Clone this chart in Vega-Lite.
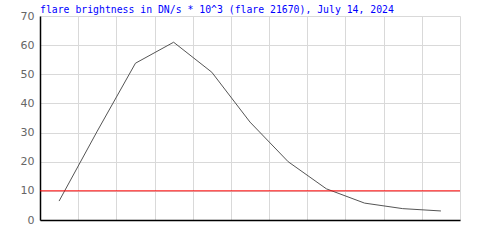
{
  "$schema": "https://vega.github.io/schema/vega-lite/v6.json",
  "width": 420,
  "height": 204,
  "autosize": "none",
  "padding": {"left": 40, "top": 16, "right": 40, "bottom": 30},
  "background": "white",
  "title": {
    "text": "flare brightness in DN/s * 10^3 (flare 21670), July 14, 2024",
    "anchor": "start",
    "frame": "group",
    "font": "DejaVu Sans Mono",
    "fontSize": 9.8,
    "fontWeight": "normal",
    "color": "#0000ff",
    "offset": -5
  },
  "config": {
    "view": {"stroke": null},
    "axis": {"gridColor": "#d9d9d9", "gridWidth": 1, "gridOpacity": 1}
  },
  "encoding": {
    "y": {
      "field": "v", "type": "quantitative",
      "scale": {"domain": [0, 70], "nice": false},
      "axis": {"title": null, "ticks": false, "values": [0,10,20,30,40,50,60,70], "labelFont": "DejaVu Sans", "labelFontSize": 11, "labelColor": "#666666", "labelPadding": 6, "domainColor": "black", "domainWidth": 1.5}
    }
  },
  "layer": [
    {
      "data": {"values": [
        {"i": 0.5, "v": 6.5},
        {"i": 1.5, "v": 30.5},
        {"i": 2.5, "v": 53.8},
        {"i": 3.5, "v": 61},
        {"i": 4.5, "v": 50.7},
        {"i": 5.5, "v": 33.6},
        {"i": 6.5, "v": 20},
        {"i": 7.5, "v": 10.7},
        {"i": 8.5, "v": 5.8},
        {"i": 9.5, "v": 3.9},
        {"i": 10.5, "v": 3.1}
      ]},
      "mark": {"type": "line", "color": "#555555", "strokeWidth": 1},
      "encoding": {
        "x": {
          "field": "i", "type": "quantitative",
          "scale": {"domain": [0, 11], "nice": false, "zero": false},
          "axis": {"title": null, "labels": false, "ticks": false, "values": [0,1,2,3,4,5,6,7,8,9,10,11], "domainColor": "black", "domainWidth": 1.5}
        }
      }
    },
    {
      "data": {"values": [{"v": 10}]},
      "mark": {"type": "rule", "color": "#ff0000", "strokeWidth": 1},
      "encoding": {}
    }
  ]
}
